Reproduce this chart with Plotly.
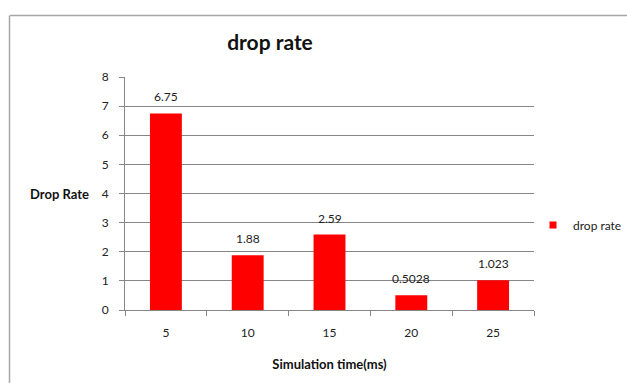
import plotly.graph_objects as go

# Simulation times (ms) and measured drop rates
sim_times = ["5", "10", "15", "20", "25"]
drop_rates = [6.75, 1.88, 2.59, 0.5028, 1.023]
rate_labels = ["6.75", "1.88", "2.59", "0.5028", "1.023"]
y_ticks = [0, 1, 2, 3, 4, 5, 6, 7, 8]

FONT = "Lato, 'Open Sans', sans-serif"
W, H = 627, 383
L, R, T, B = 125, 93, 77, 73
PW, PH = W - L - R, H - T - B


def px(xp):
    return (xp - L) / PW


def py(yp):
    return (H - B - yp) / PH


fig = go.Figure()
fig.add_trace(go.Bar(
    x=sim_times,
    y=drop_rates,
    name="drop rate",
    marker=dict(color="#ff0000", line=dict(width=0)),
    showlegend=False,
))
# legend entry with a small square key
fig.add_trace(go.Scatter(
    x=sim_times[:1], y=[None],
    mode="markers",
    name="drop rate",
    marker=dict(symbol="square", size=7, color="#ff0000"),
    showlegend=True,
    hoverinfo="skip",
))

# value labels above each bar (category index positions)
annotations = [
    dict(x=i, y=v, text=lab, xref="x", yref="y",
         xanchor="center", yanchor="bottom", yshift=7,
         showarrow=False,
         font=dict(family=FONT, size=12, color="#222222"))
    for i, (v, lab) in enumerate(zip(drop_rates, rate_labels))
]
annotations.append(dict(
    text="<b>Drop Rate</b>",
    xref="paper", yref="paper",
    x=px(91), y=py(194),
    xanchor="right", yanchor="middle",
    showarrow=False,
    font=dict(family=FONT, size=13, color="#111111"),
))

fig.update_layout(
    width=W,
    height=H,
    margin=dict(l=L, r=R, t=T, b=B),
    paper_bgcolor="white",
    plot_bgcolor="white",
    bargap=0.61,
    font=dict(family=FONT, size=12, color="#222222"),
    title=dict(
        text="<b>drop rate</b>",
        x=270 / W,
        xanchor="center",
        y=1 - 43 / H,
        yanchor="middle",
        font=dict(family=FONT, size=21, color="#111111"),
    ),
    xaxis=dict(
        type="category",
        categoryorder="array",
        categoryarray=sim_times,
        range=[-0.5, len(sim_times) - 0.5],
        showgrid=False,
        showline=True,
        linecolor="#868686",
        linewidth=1,
        ticks="outside",
        ticklen=5,
        tickcolor="#868686",
        tickson="boundaries",
        tickangle=0,
        ticklabelstandoff=12,
        tickfont=dict(family=FONT, size=12, color="#222222"),
        title=dict(text="<b>Simulation time(ms)</b>", standoff=20,
                   font=dict(family=FONT, size=13, color="#111111")),
    ),
    yaxis=dict(
        range=[0, 8],
        tickvals=y_ticks,
        showgrid=True,
        gridcolor="#868686",
        gridwidth=1,
        showline=True,
        linecolor="#868686",
        linewidth=1,
        ticks="outside",
        ticklen=5,
        tickcolor="#868686",
        ticklabelstandoff=8,
        tickfont=dict(family=FONT, size=12, color="#222222"),
        zeroline=False,
    ),
    legend=dict(
        xref="container",
        yref="container",
        x=545 / W,
        xanchor="left",
        y=1 - 225 / H,
        yanchor="middle",
        indentation=-12,
        font=dict(family=FONT, size=12, color="#222222"),
        bgcolor="rgba(0,0,0,0)",
        itemwidth=30,
        tracegroupgap=0,
    ),
    annotations=annotations,
    shapes=[
        # chart frame edges (top and left)
        dict(type="line", xref="paper", yref="paper",
             x0=px(10), x1=px(640), y0=py(15.5), y1=py(15.5),
             line=dict(color="#a6a6a6", width=1.5)),
        dict(type="line", xref="paper", yref="paper",
             x0=px(9.5), x1=px(9.5), y0=py(15.5), y1=py(400),
             line=dict(color="#a6a6a6", width=1.5)),
    ],
)

fig.write_html("out.html")
